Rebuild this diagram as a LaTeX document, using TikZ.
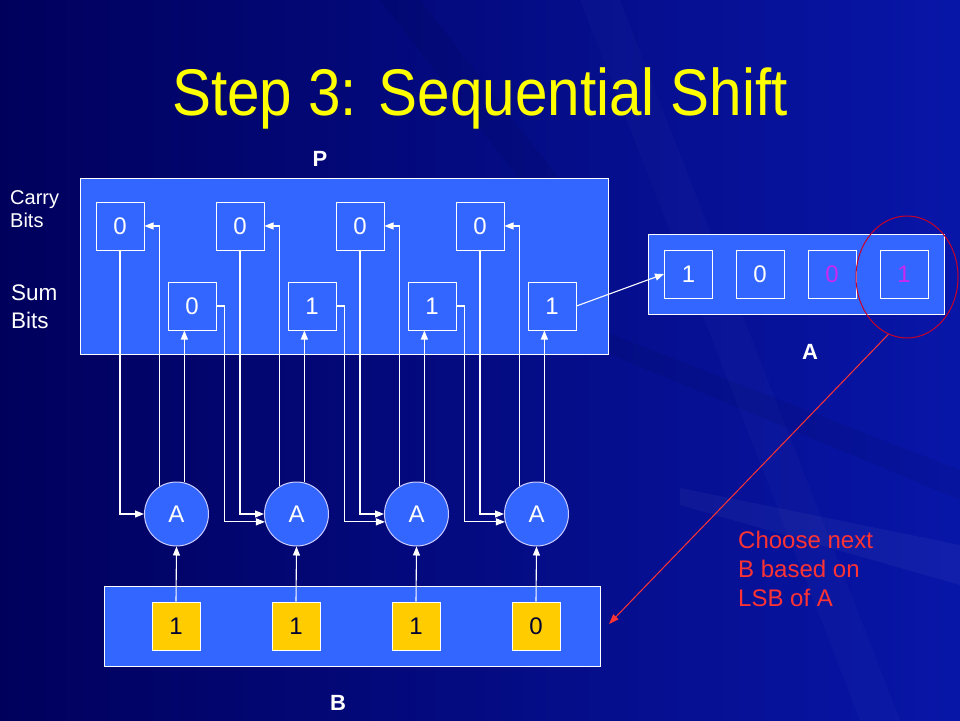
\documentclass[tikz,border=0pt]{standalone}
\usepackage{fontspec}
\setmainfont{Liberation Sans}
\usetikzlibrary{arrows.meta,shapes.geometric}
\definecolor{bgL}{RGB}{0,0,92}
\definecolor{bgR}{RGB}{8,22,168}
\definecolor{boxblue}{RGB}{51,102,255}
\definecolor{bityel}{RGB}{255,204,0}
\definecolor{bitmag}{RGB}{204,40,240}
\definecolor{redtxt}{RGB}{255,51,51}
\definecolor{ellred}{RGB}{200,0,40}
\definecolor{titley}{RGB}{255,255,0}
\begin{document}
\begin{tikzpicture}[x=1pt,y=-1pt,
  panel/.style={draw=white,line width=1pt,fill=boxblue,inner sep=0pt},
  bitbox/.style={draw=white,line width=1pt,fill=boxblue,minimum size=48pt,inner sep=0pt,text=white,font=\fontsize{24}{24}\selectfont},
  ybox/.style={bitbox,fill=bityel,text=black!80!blue},
  adder/.style={circle,draw=white!80!blue,line width=1pt,fill=boxblue,minimum size=64pt,inner sep=0pt,text=white,font=\fontsize{24}{24}\selectfont},
  wire/.style={draw=white,line width=1.1pt,-{Triangle[length=9pt,width=7pt]}},
  lbl/.style={text=white,font=\fontsize{22}{22}\selectfont\bfseries,anchor=base},
  side/.style={text=white,anchor=base west,inner sep=0pt},
  redline/.style={text=redtxt,anchor=base west,inner sep=0pt,font=\fontsize{24}{24}\selectfont},
]
% background
\shade[left color=bgL,right color=bgR] (0,0) rectangle (960,720);
\useasboundingbox (0,0) rectangle (960,720);
\fill[white,opacity=0.04] (680,488) -- (960,545) -- (960,585) -- (680,505) -- cycle;
\fill[black,opacity=0.06] (600,330) -- (960,470) -- (960,500) -- (600,350) -- cycle;
\fill[white,opacity=0.02] (580,0) -- (620,0) -- (900,720) -- (860,720) -- cycle;
\fill[black,opacity=0.06] (380,0) -- (420,0) -- (560,180) -- (520,180) -- cycle;

% title
\node[anchor=base,text=titley,font=\fontsize{66}{66}\selectfont,xscale=0.885] (title) at (480,115) {Step 3: Sequential Shift};

% panels
\node[panel,minimum width=528pt,minimum height=176pt,anchor=north west] (P) at (80,178) {};
\node[panel,minimum width=496pt,minimum height=80pt,anchor=north west] (B) at (104,586) {};
\node[panel,minimum width=296pt,minimum height=80pt,anchor=north west] (Areg) at (648,234) {};

% labels
\node[lbl] (Plbl) at (320,166) {P};
\node[lbl] (Albl) at (810,359) {A};
\node[lbl] (Blbl) at (338,710) {B};
\node[side,font=\fontsize{20}{20}\selectfont] (carry1) at (10,204) {Carry};
\node[side,font=\fontsize{20}{20}\selectfont] (carry2) at (10,227) {Bits};
\node[side,font=\fontsize{22.5}{22.5}\selectfont] (sum1) at (11,300) {Sum};
\node[side,font=\fontsize{22.5}{22.5}\selectfont] (sum2) at (11,328) {Bits};

% carry and sum bits
\foreach \i/\c/\s in {1/0/0,2/0/1,3/0/1,4/0/1} {
  \node[bitbox] (C\i) at ({120+120*(\i-1)},226) {\c};
  \node[bitbox] (S\i) at ({192+120*(\i-1)},306) {\s};
}
% B bits
\foreach \i/\b in {1/1,2/1,3/1,4/0}
  \node[ybox] (Y\i) at ({176+120*(\i-1)},626) {\b};
% adders
\foreach \i in {1,...,4}
  \node[adder] (A\i) at ({176.5+120*(\i-1)},514) {A};
% A register bits
\node[bitbox] (a1) at (688.5,274) {1};
\node[bitbox] (a2) at (760,274) {0};
\node[bitbox,text=bitmag] (a3) at (832,274) {0};
\node[bitbox,text=bitmag] (a4) at (904,274) {1};

% wires
\foreach \i in {1,...,4} {
  \draw[wire] (C\i.south) |- (A\i.west);
  \draw[wire] (A\i.121) |- (C\i.east);
  \draw[wire] (A\i.76) -- (A\i.76 |- S\i.south);
  \draw[wire] (Y\i.north) -- (A\i.south);
}
\foreach \i/\j in {1/2,2/3,3/4}
  \draw[wire] (S\i.east) -- ++(8,0) |- (A\j.194.5);
\draw[wire] (S4.east) -- (a1.west);

% LSB highlight
\node[ellipse,draw=ellred,line width=1pt,minimum width=102pt,minimum height=122pt,inner sep=0pt] (ell) at (907,277) {};
\coordinate (tip) at (609,624);
\draw[draw=redtxt,line width=1pt,-{Triangle[length=10pt,width=7pt]},redtxt] (ell.252) -- (tip);
\node[redline] (r1) at (738,548) {Choose next};
\node[redline] (r2) at (738,577) {B based on};
\node[redline] (r3) at (738,606) {LSB of A};
\end{tikzpicture}
\end{document}
